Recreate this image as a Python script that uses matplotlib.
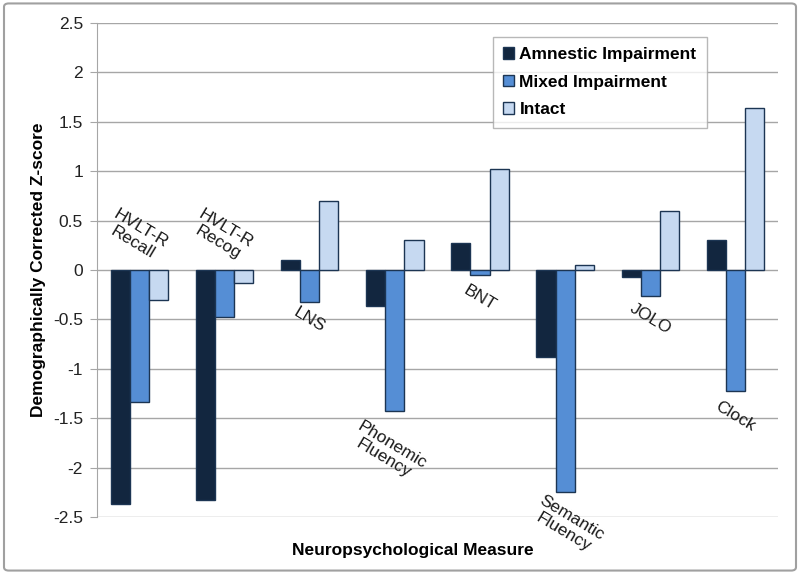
import matplotlib
matplotlib.use("Agg")
import matplotlib.pyplot as plt
import numpy as np
from matplotlib.patches import FancyBboxPatch

plt.rcParams['font.family'] = ['Liberation Sans', 'DejaVu Sans']

categories = ["HVLT-R\nRecall", "HVLT-R\nRecog", "LNS", "Phonemic\nFluency", "BNT",
              "Semantic\nFluency", "JOLO", "Clock"]
series_names = ["Amnestic Impairment", "Mixed Impairment", "Intact"]
amnestic = [-2.37, -2.33, 0.10, -0.36, 0.27, -0.88, -0.07, 0.30]
mixed = [-1.34, -0.48, -0.32, -1.43, -0.05, -2.25, -0.26, -1.22]
intact = [-0.30, -0.13, 0.70, 0.30, 1.02, 0.05, 0.60, 1.64]
# label anchor positions (x offset, y value) for the in-plot category labels
label_x_offset = [-0.03, -0.03, 0.0, -0.08, 0.0, 0.03, 0.0, 0.0]
label_y = [0.35, 0.35, -0.50, -1.84, -0.28, -2.58, -0.49, -1.48]
yticks = [-2.5, -2, -1.5, -1, -0.5, 0, 0.5, 1, 1.5, 2, 2.5]
ytick_labels = ["-2.5", "-2", "-1.5", "-1", "-0.5", "0", "0.5", "1", "1.5", "2", "2.5"]

colors = ["#12263F", "#558ED5", "#C6D9F1"]
edge = "#1C3553"

fig = plt.figure(figsize=(8, 5.74), dpi=100)
ax = fig.add_axes([0.121, 0.0993, 0.8515, 0.8607])

x = np.arange(len(categories))
w = 0.225
for i, (vals, c, name) in enumerate(zip([amnestic, mixed, intact], colors, series_names)):
    ax.bar(x + (i - 1) * w, vals, width=w, color=c, edgecolor=edge, linewidth=1.0,
           label=name, zorder=3)

ax.set_xlim(-0.5, len(categories) - 0.5)
ax.set_ylim(-2.5, 2.5)
ax.set_yticks(yticks)
ax.set_yticklabels(ytick_labels, fontsize=12.5, color="#222222")
ax.set_xticks([])
ax.yaxis.grid(True, color="#A6A6A6", linewidth=1.0, zorder=0)
ax.set_axisbelow(True)
for s in ["top", "right", "bottom"]:
    ax.spines[s].set_visible(False)
ax.spines["left"].set_color("#A6A6A6")
ax.tick_params(axis="y", length=5, color="#A6A6A6", pad=5)

for i, (lab, dx, ly) in enumerate(zip(categories, label_x_offset, label_y)):
    ax.text(i + dx, ly, lab, rotation=-31, ha="center", va="center", fontsize=12.5,
            color="#1a1a1a", linespacing=1.1, rotation_mode="anchor",
            multialignment="center", zorder=4)

ax.set_ylabel("Demographically Corrected Z-score", fontsize=12.5, fontweight="bold")
ax.yaxis.set_label_coords(-0.075, 0.5)
ax.set_xlabel("Neuropsychological Measure", fontsize=12.5, fontweight="bold")
ax.xaxis.set_label_coords((413 - 97) / 681, -0.053)

leg = ax.legend(loc="upper left", bbox_to_anchor=(0.581, 0.972), frameon=True, fancybox=False,
                prop={"weight": "bold", "size": 12.5}, handlelength=0.65, handleheight=0.65,
                handletextpad=0.3, labelspacing=0.72, borderpad=0.6, borderaxespad=0)
leg.get_frame().set_edgecolor("#A6A6A6")
leg.get_frame().set_linewidth(1.0)

border = FancyBboxPatch((0.005, 0.006), 0.99, 0.988, boxstyle="round,pad=0,rounding_size=0.006",
                        transform=fig.transFigure, facecolor="none", edgecolor="#A0A0A0",
                        linewidth=1.5)
fig.patches.append(border)

fig.savefig("out.png", dpi=100)
